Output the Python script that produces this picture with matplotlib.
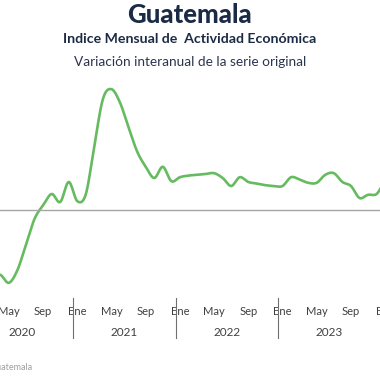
import numpy as np
import matplotlib
matplotlib.use("Agg")
import matplotlib.pyplot as plt
import matplotlib.transforms as mtransforms

# monthly year-over-year change (%), index 0 = Ene 2020
start_month = 3  # series visible from Abr 2020
values = [-8.1, -9.1, -7.5, -4.3, -1.1, 0.6, 2.0, 1.0, 3.5,
          1.1, 2.0, 8.1, 13.9, 15.1, 13.4, 10.3, 7.3, 5.4, 4.0, 5.4, 3.6,
          4.1, 4.3, 4.4, 4.5, 4.6, 4.0, 3.0, 4.1, 3.5, 3.3, 3.1, 3.0,
          3.0, 4.1, 3.8, 3.4, 3.4, 4.4, 4.6, 3.5, 3.0, 1.5, 1.9, 2.0,
          3.5]
month_names = ["Ene", "May", "Sep"]
month_ticks = [0, 4, 8]
years = ["2020", "2021", "2022", "2023"]

title = "Guatemala"
subtitle = "Indice Mensual de  Actividad Económica"
subtitle2 = "Variación interanual de la serie original"
source = "Fuente: Banco de Guatemala"

navy = "#1c2b45"
green = "#66bb60"

plt.rcParams["font.family"] = ["Lato", "DejaVu Sans"]


def smooth(x, y, n=12):
    """Catmull-Rom style smoothing, like a spreadsheet smoothed line"""
    x = np.asarray(x, float)
    y = np.asarray(y, float)
    px, py = [], []
    for i in range(len(x) - 1):
        y0 = y[i - 1] if i > 0 else y[i]
        y3 = y[i + 2] if i + 2 < len(y) else y[i + 1]
        t = np.linspace(0, 1, n, endpoint=False)
        h00 = 2 * t**3 - 3 * t**2 + 1
        h10 = t**3 - 2 * t**2 + t
        h01 = -2 * t**3 + 3 * t**2
        h11 = t**3 - t**2
        m1 = (y[i + 1] - y0) / 2
        m2 = (y3 - y[i]) / 2
        px.extend(x[i] + t * (x[i + 1] - x[i]))
        py.extend(h00 * y[i] + h10 * m1 + h01 * y[i + 1] + h11 * m2)
    px.append(x[-1])
    py.append(y[-1])
    return np.array(px), np.array(py)


fig = plt.figure(figsize=(3.8, 3.8), dpi=100)
ax = fig.add_axes([-0.0778, 0.2158, 1.1026, 0.5895])

months = np.arange(start_month, start_month + len(values))
sx, sy = smooth(months, values)
ax.plot(sx, sy, color=green, lw=1.9, solid_capstyle="round")
ax.axhline(0, color="#a6a6a6", lw=1)

ax.set_xlim(-0.5, 48.5)
ax.set_ylim(-11, 17)
for s in ax.spines.values():
    s.set_visible(False)
ax.set_yticks([])

# month ticks that fall inside the visible part of the chart
ticks = [12 * k + m for k in range(len(years) + 1) for m in month_ticks]
ticks = [t for t in ticks if 4 <= t <= 48]
labels = [month_names[t % 12 // 4] for t in ticks]
ax.set_xticks(ticks, labels)
ax.tick_params(axis="x", length=0, pad=6, labelsize=8, labelcolor="#404040")

trans = mtransforms.blended_transform_factory(ax.transData, ax.transAxes)
for k, yr in enumerate(years):
    ax.text(12 * k + 5.5, -0.155, yr, transform=trans, ha="center",
            va="center", fontsize=8.5, color="#404040")
for k in range(1, len(years) + 1):
    ax.plot([12 * k - 0.5] * 2, [0.0, -0.178], transform=trans,
            color="#707070", lw=0.8, clip_on=False)

fig.text(0.5, 1 - 15 / 380, title, ha="center", va="center",
         fontsize=18.5, fontweight=900, color=navy)
fig.text(0.5, 1 - 39 / 380, subtitle, ha="center", va="center",
         fontsize=10.2, fontweight="bold", color=navy)
fig.text(0.5, 1 - 62 / 380, subtitle2, ha="center", va="center",
         fontsize=9.8, color="#2b3550")
fig.text(32 / 380, 1 - 367 / 380, source, ha="right", va="center",
         fontsize=6.5, color="#a0a0a0")

fig.savefig("out.png", dpi=100)
